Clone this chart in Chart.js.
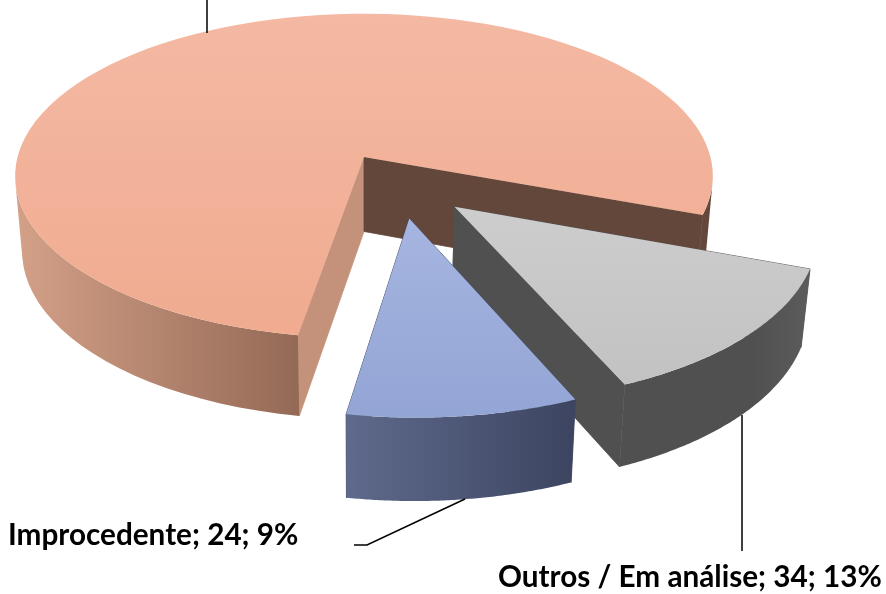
<!DOCTYPE html>
<html>
<head>
<meta charset="utf-8">
<style>
  html, body { margin: 0; padding: 0; background: #fff; }
  canvas { display: block; }
</style>
<script src="https://cdn.jsdelivr.net/npm/chart.js@4/dist/chart.umd.min.js"></script>
</head>
<body>
<canvas id="chart" width="886" height="594"></canvas>
<script>
// values (the big slice's label is cut off at the top)
var categories = ["", "Outros / Em análise", "Improcedente"];
var values = [205, 34, 24];

// slice colours
var topColors = [["#F4B9A3", "#F0AB90"], ["#CDCDCD", "#C2C2C2"], ["#A6B5E0", "#93A5D5"]];
var wallColors = [
    [[0, "#D4A088"], [0.405, "#946A56"], [0.6, "#65483C"], [1, "#65483C"]],
    [[0, "#505050"], [0.7, "#505050"], [1, "#5C5C5C"]],
    [[0, "#5F6A8C"], [1, "#3C4460"]]
];
var startWallColors = ["#C4927A", "#505050", "#3C4460"];
var endWallColors = ["#63473B", "#505050", "#3C4460"];

// slices pulled out of the pie, in radius units
var explode = [[0, 0], [0.252, 0.3], [0.125, 0.368]];

// the tilted view of the pie
var view = { cx: 364, cy: 157, rx: 346.5, ry: 160, depth: 76, persp: 0.117, shrink: 0.02 };

function project(px, py, h) {
    var s = (1 - view.shrink * h) / (1 - view.persp * py);
    return {
        x: view.cx + view.rx * px * s,
        y: view.cy + (view.ry * py + view.depth * h) * s
    };
}

function rimPoints(i, start, end, h) {
    var pts = [];
    for (var k = 0; k <= 90; k++) {
        var a = start + (end - start) * k / 90;
        pts.push(project(Math.cos(a) + explode[i][0], Math.sin(a) + explode[i][1], h));
    }
    return pts;
}

function tracePoly(ctx, pts) {
    pts.forEach(function(p, n) {
        if (n === 0) ctx.moveTo(p.x, p.y); else ctx.lineTo(p.x, p.y);
    });
    ctx.closePath();
}

function fillPoly(ctx, pts, fill, seam) {
    ctx.beginPath();
    tracePoly(ctx, pts);
    ctx.fillStyle = fill;
    ctx.fill();
    if (seam) {
        // closes the white hairline against the next wall
        ctx.strokeStyle = fill;
        ctx.lineWidth = 0.8;
        ctx.stroke();
    }
}

function polyArea(pts) {
    var sum = 0;
    pts.forEach(function(p, n) {
        var q = pts[(n + 1) % pts.length];
        sum += p.x * q.y - q.x * p.y;
    });
    return sum / 2;
}

var pie3d = {
    id: "pie3d",
    beforeDatasetDraw: function(chart, args) {
        var ctx = chart.ctx;
        var arcs = chart.getDatasetMeta(args.index).data;
        arcs.forEach(function(arc, i) {
            var start = arc.startAngle, end = arc.endAngle;
            var tipTop = project(explode[i][0], explode[i][1], 0);
            var tipBase = project(explode[i][0], explode[i][1], 1);
            var top = rimPoints(i, start, end, 0);
            var base = rimPoints(i, start, end, 1);

            // the two flat cut walls
            fillPoly(ctx, [tipTop, top[0], base[0], tipBase], startWallColors[i], true);
            fillPoly(ctx, [tipTop, top[90], base[90], tipBase], endWallColors[i], true);

            // round outer wall, only the strips facing the viewer
            var xs = top.concat(base).map(function(p) { return p.x; });
            var x0 = Math.min.apply(null, xs), x1 = Math.max.apply(null, xs);
            var wall = ctx.createLinearGradient(x0, 0, x1, 0);
            wallColors[i].forEach(function(c) { wall.addColorStop(c[0], c[1]); });
            ctx.beginPath();
            for (var k = 0; k < 90; k++) {
                var quad = [top[k], top[k + 1], base[k + 1], base[k]];
                if (polyArea(quad) < 0) tracePoly(ctx, quad);
            }
            ctx.fillStyle = wall;
            ctx.fill();

            // top face
            var ys = top.concat([tipTop]).map(function(p) { return p.y; });
            var face = ctx.createLinearGradient(0, Math.min.apply(null, ys), 0, Math.max.apply(null, ys));
            face.addColorStop(0, topColors[i][0]);
            face.addColorStop(1, topColors[i][1]);
            fillPoly(ctx, [tipTop].concat(top), face, false);
        });
        return false;
    },
    afterDraw: function(chart) {
        var ctx = chart.ctx;
        var total = values.reduce(function(a, b) { return a + b; }, 0);

        // leader lines
        ctx.strokeStyle = "#000";
        ctx.lineWidth = 1.5;
        [
            [[207, 0], [207, 33]],
            [[742, 415], [742, 551]],
            [[465, 499], [367, 545], [354, 545]]
        ].forEach(function(line) {
            ctx.beginPath();
            line.forEach(function(p, n) {
                if (n === 0) ctx.moveTo(p[0], p[1]); else ctx.lineTo(p[0], p[1]);
            });
            ctx.stroke();
        });

        // data labels
        ctx.fillStyle = "#000";
        ctx.font = "700 29.7px Lato";
        ctx.textAlign = "left";
        ctx.textBaseline = "alphabetic";
        [[1, 498, 587], [2, 8, 545]].forEach(function(l) {
            var i = l[0];
            var txt = categories[i] + "; " + values[i] + "; " + Math.round(values[i] / total * 100) + "%";
            ctx.fillText(txt, l[1], l[2]);
        });
    }
};

new Chart(document.getElementById("chart"), {
    type: "pie",
    data: {
        labels: categories,
        datasets: [{ data: values, backgroundColor: ["#F2B29C", "#C8C8C8", "#9CADDB"], borderWidth: 0 }]
    },
    options: {
        responsive: false,
        animation: false,
        rotation: 189.7,
        plugins: { legend: { display: false }, tooltip: { enabled: false } }
    },
    plugins: [pie3d]
});
</script>
</body>
</html>
